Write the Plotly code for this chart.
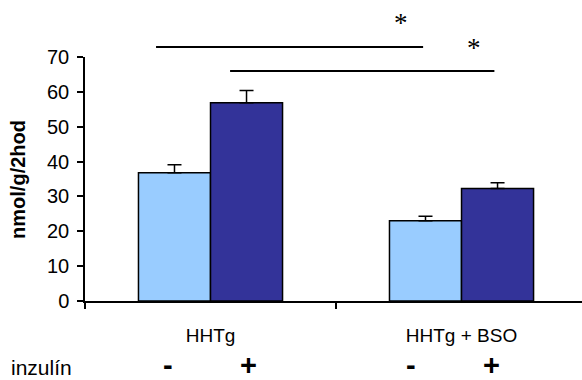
import plotly.graph_objects as go

# ---- data ----
categories = ["HHTg", "HHTg + BSO"]
minus_values = [36.8, 23.0]      # inzulín -
minus_errors = [2.3, 1.3]
plus_values = [56.9, 32.3]       # inzulín +
plus_errors = [3.5, 1.6]
y_ticks = [0, 10, 20, 30, 40, 50, 60, 70]
y_title = "nmol/g/2hod"
row_label = "inzulín"
row_signs = ["-", "+", "-", "+"]
row_sign_pos = [-0.17, 0.15, 0.80, 1.12]
# significance brackets: (x start, x end, paper y), star position (x, paper y)
brackets = [(-0.217, 0.847, 1.041), (0.078, 1.131, 0.943)]
stars = [(0.759, 1.139), (1.05, 1.037)]

light = "#99CCFF"
dark = "#333399"

fig = go.Figure()
fig.add_trace(go.Bar(
    x=categories, y=minus_values, name="-",
    marker=dict(color=light, line=dict(color="black", width=1.5)),
    error_y=dict(type="data", array=minus_errors, arrayminus=[0, 0], symmetric=False,
                 color="black", thickness=1.5, width=7),
))
fig.add_trace(go.Bar(
    x=categories, y=plus_values, name="+",
    marker=dict(color=dark, line=dict(color="black", width=1.5)),
    error_y=dict(type="data", array=plus_errors, arrayminus=[0, 0], symmetric=False,
                 color="black", thickness=1.5, width=7),
))

shapes = []
for x0, x1, yy in brackets:
    shapes.append(dict(type="line", xref="x", yref="paper", x0=x0, x1=x1, y0=yy, y1=yy,
                       line=dict(color="black", width=2)))

annotations = []
for sx, sy in stars:
    annotations.append(dict(text="*", x=sx, y=sy, xref="x", yref="paper", showarrow=False,
                            xanchor="center", yanchor="middle",
                            font=dict(family="Liberation Serif", size=27, color="black")))
for s, xp in zip(row_signs, row_sign_pos):
    annotations.append(dict(text="<b>%s</b>" % s, x=xp, y=0, xref="x", yref="paper",
                            yshift=-64, showarrow=False, xanchor="center", yanchor="middle",
                            font=dict(family="Liberation Sans", size=29, color="black")))
annotations.append(dict(text=row_label, x=-0.153, y=0, xref="paper", yref="paper",
                        yshift=-66, showarrow=False, xanchor="left", yanchor="middle",
                        font=dict(family="Liberation Sans", size=21, color="black")))
annotations.append(dict(text="<b>%s</b>" % y_title, x=-0.135, y=0.5, xref="paper", yref="paper",
                        showarrow=False, xanchor="center", yanchor="middle", textangle=-90,
                        font=dict(family="Liberation Sans", size=20, color="black")))

fig.update_layout(
    width=582, height=380, autosize=False,
    margin=dict(l=85, r=0, t=57, b=79, pad=0),
    paper_bgcolor="white", plot_bgcolor="white",
    barmode="group", bargap=0.426, bargroupgap=0,
    showlegend=False,
    font=dict(family="Liberation Sans", color="black"),
    shapes=shapes, annotations=annotations,
    xaxis=dict(type="category", range=[-0.5, 1.48], tickson="boundaries",
               ticks="outside", ticklen=6, tickwidth=1.5, tickcolor="black",
               showline=True, linecolor="black", linewidth=1.5,
               showgrid=False, tickfont=dict(size=19), ticklabelstandoff=16),
    yaxis=dict(range=[0, 70], tickvals=y_ticks, ticks="outside", ticklen=6, tickwidth=1.5,
               tickcolor="black", showline=True, linecolor="black", linewidth=1.5,
               showgrid=False, zeroline=False, tickfont=dict(size=20), ticklabelstandoff=4),
)

fig.write_html("out.html")
